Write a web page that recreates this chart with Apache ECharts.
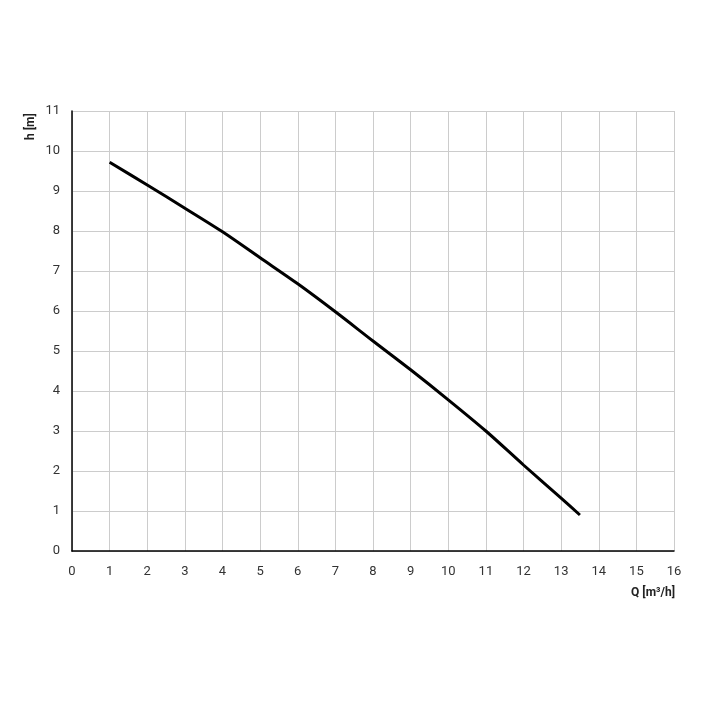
<!DOCTYPE html>
<html><head><meta charset="utf-8">
<script src="https://cdn.jsdelivr.net/npm/echarts@6/dist/echarts.min.js"></script>
<style>html,body{margin:0;padding:0;background:#fff}#c{width:706px;height:706px}</style>
</head><body><div id="c"></div>
<script>
const flowQ = [1, 2, 3, 4, 5, 6, 7, 8, 9, 10, 11, 12, 13, 13.5];
const headH = [9.72, 9.15, 8.57, 7.98, 7.33, 6.68, 5.98, 5.25, 4.53, 3.78, 3.0, 2.15, 1.32, 0.9];
const xAxisName = 'Q [m³/h]';
const yAxisName = 'h [m]';

const chart = echarts.init(document.getElementById('c'), null, {renderer: 'canvas'});
const font = 'Roboto, "DejaVu Sans", sans-serif';
chart.setOption({
  animation: false,
  grid: {left: 72, right: 32, top: 111, bottom: 155, containLabel: false},
  xAxis: {
    type: 'value', min: 0, max: 16, interval: 1,
    axisLine: {show: true, onZero: false, lineStyle: {color: '#000', width: 1.5}},
    axisTick: {show: false},
    axisLabel: {color: '#333', fontSize: 13, fontFamily: font, margin: 14},
    splitLine: {show: true, lineStyle: {color: '#cccccc', width: 1}}
  },
  yAxis: {
    type: 'value', min: 0, max: 11, interval: 1,
    axisLine: {show: true, lineStyle: {color: '#000', width: 1.5}},
    axisTick: {show: false},
    axisLabel: {color: '#333', fontSize: 13, fontFamily: font, margin: 12},
    splitLine: {show: true, lineStyle: {color: '#cccccc', width: 1}}
  },
  graphic: [
    {type: 'text', right: 31, top: 587, style: {text: xAxisName, fill: '#222', font: 'bold 12px ' + font}},
    {type: 'text', x: 25, y: 140, rotation: Math.PI / 2, style: {text: yAxisName, fill: '#222', font: 'bold 12px ' + font}}
  ],
  series: [{
    type: 'line',
    data: flowQ.map((q, i) => [q, headH[i]]),
    showSymbol: false,
    smooth: 0.3,
    lineStyle: {color: '#000', width: 3},
    silent: true
  }]
});
</script></body></html>
